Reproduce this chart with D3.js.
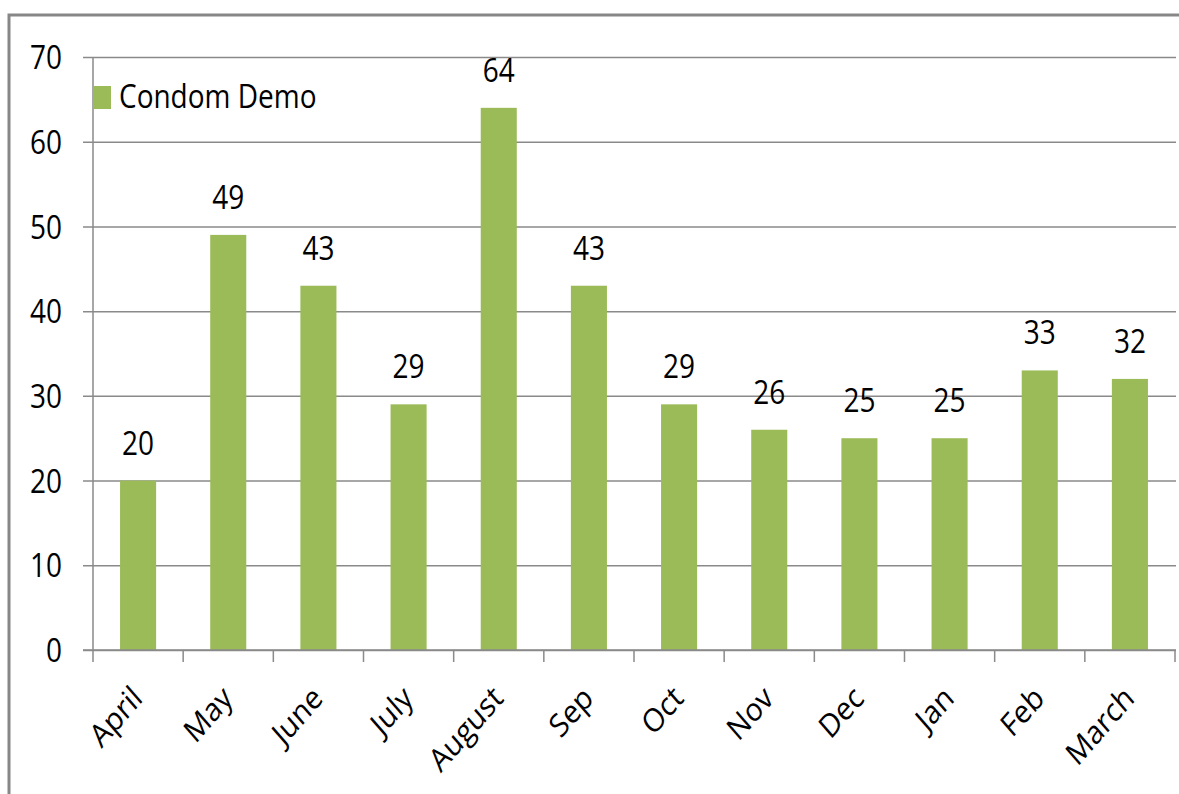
<!DOCTYPE html>
<html>
<head>
<meta charset="utf-8">
<script src="https://cdn.jsdelivr.net/npm/d3@7"></script>
<style>
  body { margin: 0; background: #fff; }
  text { font-family: "Open Sans", sans-serif; fill: #000; }
</style>
</head>
<body>
<div id="chart"></div>
<script>
// chart data
var months = ["April", "May", "June", "July", "August", "Sep", "Oct", "Nov", "Dec", "Jan", "Feb", "March"];
var demoCounts = [20, 49, 43, 29, 64, 43, 29, 26, 25, 25, 33, 32];
var yTicks = [0, 10, 20, 30, 40, 50, 60, 70];
var seriesName = "Condom Demo";

var W = 1179, H = 794;
var margin = { top: 57, right: 4, bottom: 144, left: 93 },
width = W - margin.left - margin.right,
height = H - margin.top - margin.bottom;

// the original text looks a little stretched vertically
var stretch = "scale(1,1.15)";

var data = months.map((m, i) => ({ month: m, value: demoCounts[i] }));

var svgRoot = d3.select("#chart")
.append("svg")
.attr("width", W)
.attr("height", H);

// outer frame (only top and left edges show)
svgRoot.append("path")
.attr("d", "M9,794 L9,15 L1179,15")
.attr("fill", "none")
.attr("stroke", "#878787")
.attr("stroke-width", 3);

var svg = svgRoot.append("g")
.attr("transform", "translate(" + margin.left + "," + margin.top + ")");

var x = d3.scaleBand()
.domain(months)
.range([0, width])
.paddingInner(0.6)
.paddingOuter(0.3);

var y = d3.scaleLinear()
.domain([0, 70])
.range([height, 0]);

// gridlines + y labels
var yAxis = svg.append("g")
.call(d3.axisLeft(y).tickValues(yTicks).tickSize(-(width + 10)));
yAxis.select(".domain").remove();
yAxis.selectAll(".tick line")
.attr("x1", -10)
.attr("x2", width + 1)
.attr("stroke", "#8a8a8a")
.attr("stroke-width", 1.5);
yAxis.selectAll(".tick text")
.attr("x", -31)
.attr("dy", "0.36em")
.attr("transform", stretch)
.style("font-family", "Open Sans")
.style("font-size", "28px");

// y axis line
svg.append("line")
.attr("x1", 0).attr("x2", 0)
.attr("y1", 0).attr("y2", height)
.attr("stroke", "#8a8a8a")
.attr("stroke-width", 1.5);

// category tick marks between bands
svg.append("g")
.selectAll("line")
.data(d3.range(months.length + 1))
.enter()
.append("line")
.attr("x1", (i) => i * x.step())
.attr("x2", (i) => i * x.step())
.attr("y1", height)
.attr("y2", height + 12)
.attr("stroke", "#8a8a8a")
.attr("stroke-width", 1.5);

// bars
svg.selectAll(".bar")
.data(data)
.enter()
.append("rect")
.attr("class", "bar")
.attr("x", (d) => x(d.month))
.attr("y", (d) => y(d.value))
.attr("width", x.bandwidth())
.attr("height", (d) => height - y(d.value))
.style("fill", "#9bbb59");

// value labels
svg.selectAll(".val")
.data(data)
.enter()
.append("text")
.attr("class", "val")
.attr("text-anchor", "middle")
.attr("transform", (d) => "translate(" + (x(d.month) + x.bandwidth() / 2) + "," + (y(d.value) - 26) + ") " + stretch)
.style("font-size", "28px")
.text((d) => d.value);

// month labels, rotated
svg.selectAll(".mlab")
.data(data)
.enter()
.append("text")
.attr("class", "mlab")
.attr("text-anchor", "end")
.attr("transform", (d) => "translate(" + (x(d.month) + x.bandwidth() / 2 + 6) + "," + (height + 50) + ") " + stretch + " rotate(-45)")
.style("font-size", "28px")
.text((d) => d.month);

// legend
var legend = svg.append("g")
.attr("transform", "translate(0,29)");
legend.append("rect")
.attr("width", 18)
.attr("height", 23)
.style("fill", "#9bbb59");
legend.append("text")
.attr("transform", "translate(26,22) " + stretch)
.style("font-size", "28px")
.text(seriesName);

// bottom axis line
svg.append("line")
.attr("x1", -10).attr("x2", width + 1)
.attr("y1", height).attr("y2", height)
.attr("stroke", "#8a8a8a")
.attr("stroke-width", 1.5);
</script>
</body>
</html>
